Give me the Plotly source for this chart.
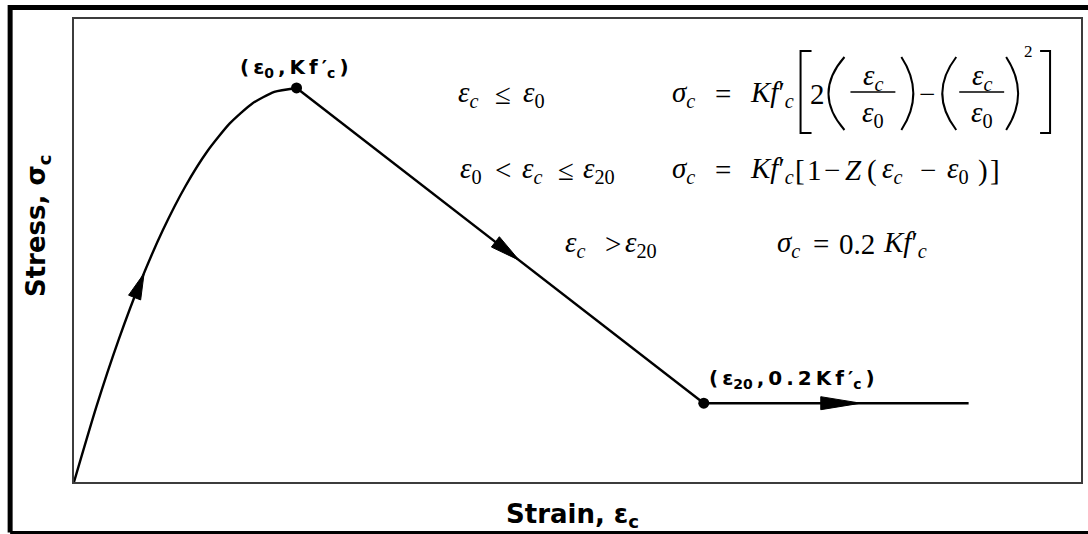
import numpy as np
import plotly.graph_objects as go

# Normalised stress-strain curve: strain as eps/eps0, stress as sigma/(K f'c)
strain_rise = [0.0, 0.1, 0.2, 0.3, 0.4, 0.5, 0.6, 0.7, 0.8, 0.9, 1.0]
stress_rise = [0.0, 0.19, 0.36, 0.51, 0.64, 0.75, 0.84, 0.91, 0.96, 0.99, 1.0]
strain_fall = [1.0, 2.83]
stress_fall = [1.0, 0.2]
strain_flat = [2.83, 4.02]
stress_flat = [0.2, 0.2]
key_strain = [1.0, 2.83]
key_stress = [1.0, 0.2]
key_labels = [
    "(\u2009ε<sub>0</sub>\u2009,\u2009K\u2009f\u2009′<sub>c</sub>\u2009)",
    "(\u2009ε<sub>20</sub>\u2009,\u20090\u2009.\u20092\u2009K\u2009f\u2009′<sub>c</sub>\u2009)",
]
# where the direction arrows sit along each branch (strain values)
arrow_strain = [0.315, 2.0, 3.535]

W, H = 1088, 534
ML, MR, MT, MB = 74, 5, 19, 52
PW, PH = W - ML - MR, H - MT - MB
XR = [0.0, 4.525]
YR = [0.0, 1.175]
SX = PW / (XR[1] - XR[0])
SY = PH / (YR[1] - YR[0])


def paper(px, py):
    return (px - ML) / PW, (H - MB - py) / PH


fig = go.Figure()

line = dict(color="black", width=2.4)
fig.add_trace(go.Scatter(x=strain_rise, y=stress_rise, mode="lines",
                         line=dict(shape="spline", smoothing=0.6, **line)))
fig.add_trace(go.Scatter(x=strain_fall, y=stress_fall, mode="lines", line=line))
fig.add_trace(go.Scatter(x=strain_flat, y=stress_flat, mode="lines", line=line))
fig.add_trace(go.Scatter(x=key_strain, y=key_stress, mode="markers",
                         marker=dict(color="black", size=11)))


def branch_value(s):
    xs = strain_rise + strain_fall[1:] + strain_flat[1:]
    ys = stress_rise + stress_fall[1:] + stress_flat[1:]
    return float(np.interp(s, xs, ys))


def arrowhead(s, length, width, back=0.05):
    tip = np.array([s, branch_value(s)])
    tail = np.array([s - back, branch_value(s - back)])
    d = (tip - tail) * np.array([SX, SY])
    d = d / np.linalg.norm(d)
    n = np.array([-d[1], d[0]])
    tip_px = np.zeros(2)
    base = tip_px - d * length
    pts = [tip_px, base + n * width / 2, base - n * width / 2, tip_px]
    xs = [tip[0] + p[0] / SX for p in pts]
    ys = [tip[1] + p[1] / SY for p in pts]
    fig.add_trace(go.Scatter(x=xs, y=ys, mode="lines", fill="toself",
                             fillcolor="black", line=dict(color="black", width=1)))


arrowhead(arrow_strain[0], 26, 13)
arrowhead(arrow_strain[1], 30, 13)
arrowhead(arrow_strain[2], 40, 13)

label_font = dict(family="DejaVu Sans", size=20, color="black", weight="bold")
label_shift = [(-2, 20), (88, 24)]
for xs_, ys_, txt, (dx, dy) in zip(key_strain, key_stress, key_labels, label_shift):
    fig.add_annotation(x=xs_, y=ys_, text=txt, showarrow=False, xshift=dx, yshift=dy,
                       xanchor="center", yanchor="middle", font=label_font)

# axis titles
title_font = dict(family="DejaVu Sans", size=26, color="black", weight="bold")
tx, ty = paper(573, 515)
fig.add_annotation(x=tx, y=ty, xref="paper", yref="paper", text="Strain, ε<sub>c</sub>",
                   showarrow=False, xanchor="center", yanchor="middle", font=title_font)
tx, ty = paper(38, 226)
fig.add_annotation(x=tx, y=ty, xref="paper", yref="paper", text="Stress, σ<sub>c</sub>",
                   showarrow=False, xanchor="center", yanchor="middle", textangle=-90,
                   font=title_font)

# constitutive relations, set token by token
eq_font = dict(family="Liberation Serif", size=29, color="black")
ec = "<i>ε</i><sub><i>c</i></sub>"
e0 = "<i>ε</i><sub>0</sub>"
e20 = "<i>ε</i><sub>20</sub>"
sc = "<i>σ</i><sub><i>c</i></sub>"
kf = "<i>Kf</i>′<sub><i>c</i></sub>"
r1, r2, r3 = 94, 170, 244
tokens = [
    (ec, 458, r1), ("≤", 495, r1), (e0, 523, r1),
    (sc, 672, r1), ("=", 715, r1), (kf, 750, r1), ("2", 810, r1), ("−", 920, r1),
    (e0, 460, r2), ("<", 495, r2), (ec, 522, r2), ("≤", 558, r2), (e20, 583, r2),
    (sc, 672, r2), ("=", 715, r2), (kf, 750, r2), ("[", 795, r2), ("1", 807, r2),
    ("−", 824, r2), ("<i>Z</i>", 846, r2), ("(", 868, r2), (ec, 883, r2),
    ("−", 921, r2), (e0, 948, r2), (")", 979, r2), ("]", 991, r2),
    (ec, 565, r3), (">", 605, r3), (e20, 625, r3),
    (sc, 777, r3), ("=", 813, r3), ("0.2", 840, r3), (kf, 884, r3),
]
for txt, px, py in tokens:
    ax_, ay_ = paper(px, py)
    fig.add_annotation(x=ax_, y=ay_, xref="paper", yref="paper", text=txt, showarrow=False,
                       xanchor="left", yanchor="middle", font=eq_font, borderpad=0)

# fractions eps_c / eps_0
for cx in (875, 984):
    for txt, py in ((ec, 77), (e0, 114)):
        ax_, ay_ = paper(cx, py)
        fig.add_annotation(x=ax_, y=ay_, xref="paper", yref="paper", text=txt,
                           showarrow=False, xanchor="center", yanchor="middle", font=eq_font,
                           borderpad=0)
    x0, y0 = paper(cx - 23, 92)
    x1, _ = paper(cx + 22, 92)
    fig.add_shape(type="line", xref="paper", yref="paper", x0=x0, x1=x1, y0=y0, y1=y0,
                  line=dict(color="black", width=1.5))

ax_, ay_ = paper(1030, 52)
fig.add_annotation(x=ax_, y=ay_, xref="paper", yref="paper", text="2", showarrow=False,
                   xanchor="center", yanchor="middle",
                   font=dict(family="Liberation Serif", size=17, color="black"))


def path(points):
    segs = []
    for cmd, pts in points:
        if cmd == "L":
            for p in pts:
                segs.append("L{:.5f},{:.5f}".format(*paper(*p)))
        else:
            coords = " ".join("{:.5f},{:.5f}".format(*paper(*p)) for p in pts)
            segs.append(cmd + coords)
    return " ".join(segs)


def paren(x_left, x_right, top, bottom, opening=True):
    mid = (top + bottom) / 2
    if opening:
        ends, bulge = x_right, 2 * x_left - x_right
    else:
        ends, bulge = x_left, 2 * x_right - x_left
    return path([("M", [(ends, top)]), ("Q", [(bulge, mid), (ends, bottom)])])


delims = [
    path([("M", [(813, 51)]), ("L", [(802, 51), (802, 133), (813, 133)])]),
    path([("M", [(1042, 51)]), ("L", [(1052, 51), (1052, 133), (1042, 133)])]),
    paren(830, 846, 57, 130, True),
    paren(903, 915, 57, 130, False),
    paren(944, 958, 57, 130, True),
    paren(1008, 1020, 57, 130, False),
]
for d in delims:
    fig.add_shape(type="path", xref="paper", yref="paper", path=d,
                  line=dict(color="black", width=2))

# outer frame around the figure
fig.add_shape(type="path", xref="paper", yref="paper",
              path=path([("M", [(1100, 7.5)]), ("L", [(10, 7.5), (10, 532.5)])]),
              line=dict(color="black", width=5))
fig.add_shape(type="path", xref="paper", yref="paper",
              path=path([("M", [(10, 532.5)]), ("L", [(1100, 532.5)])]),
              line=dict(color="black", width=3))

axis = dict(showline=True, mirror=True, linecolor="#3c3c3c", linewidth=2,
            showticklabels=False, ticks="", showgrid=False, zeroline=False, fixedrange=True)
fig.update_xaxes(range=XR, **axis)
fig.update_yaxes(range=YR, **axis)
fig.update_layout(width=W, height=H, autosize=False, showlegend=False,
                  margin=dict(l=ML, r=MR, t=MT, b=MB, pad=0),
                  paper_bgcolor="white", plot_bgcolor="white", hovermode=False)

fig.write_html("out.html", config={"displayModeBar": False, "staticPlot": True})
